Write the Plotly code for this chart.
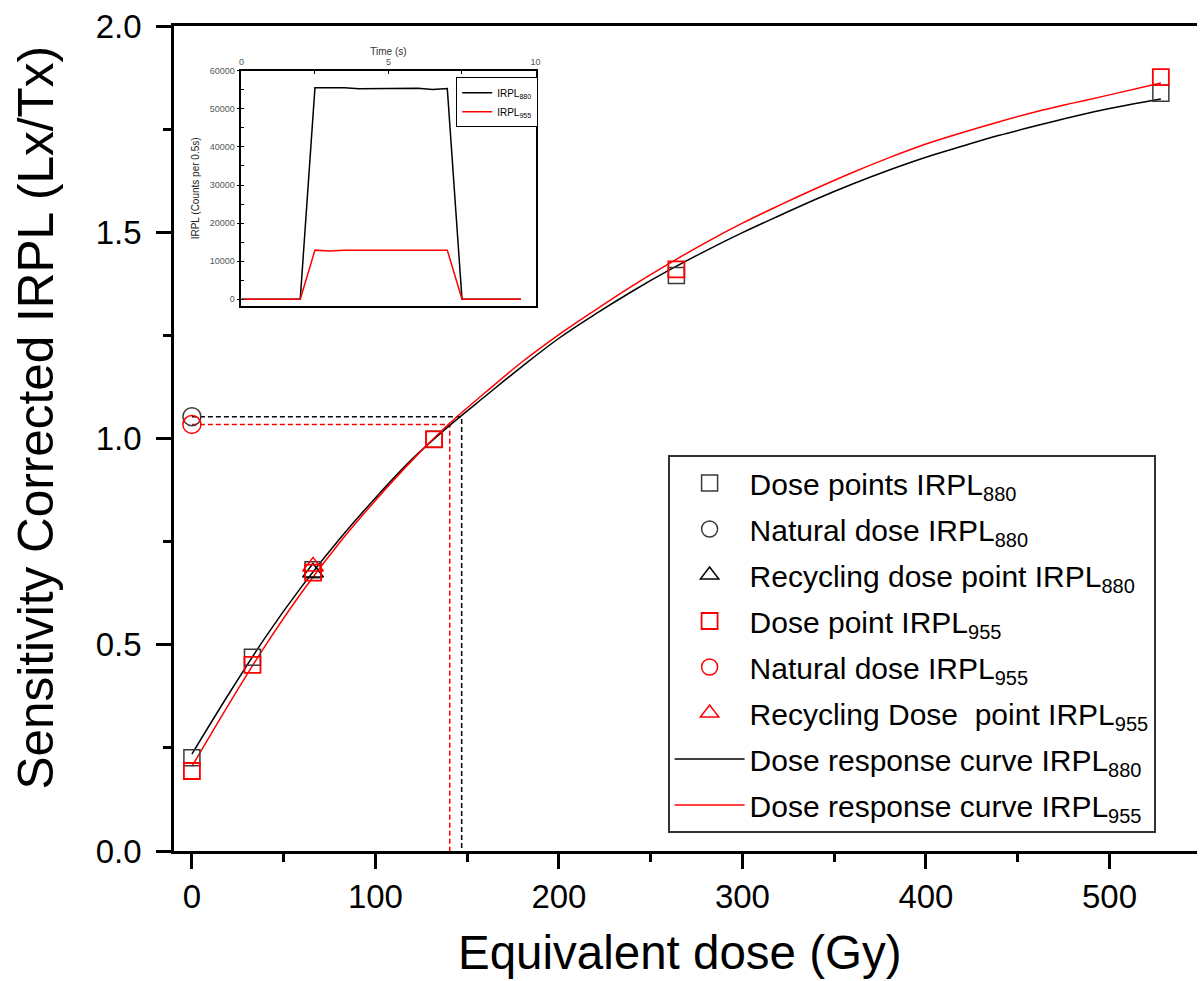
import plotly.graph_objects as go

# ---------------- data ----------------
dose_880 = [0, 33, 66, 132, 264, 528]
lxtx_880 = [0.226, 0.470, 0.682, 0.998, 1.395, 1.837]
dose_955 = [0, 33, 66, 132, 264, 528]
lxtx_955 = [0.194, 0.451, 0.675, 0.998, 1.410, 1.876]

nat_dose = [0]
nat_880 = [1.053]
nat_955 = [1.034]

recyc_dose = [66]
recyc_880 = [0.675]
recyc_955 = [0.690]

de_880 = 147.0
de_955 = 140.5

curve_dose = [0, 20, 40, 60, 80, 100, 120, 140, 160, 180, 200, 220, 240, 260,
              280, 300, 320, 340, 360, 380, 400, 420, 440, 460, 480, 500, 528]
curve_880 = [0.235, 0.380, 0.518, 0.642, 0.754, 0.856, 0.950, 1.030, 1.103,
             1.175, 1.243, 1.302, 1.357, 1.408, 1.455, 1.499, 1.540, 1.580,
             1.617, 1.651, 1.682, 1.709, 1.735, 1.758, 1.780, 1.800, 1.823]
curve_955 = [0.205, 0.355, 0.498, 0.628, 0.745, 0.850, 0.947, 1.035, 1.112,
             1.186, 1.252, 1.312, 1.370, 1.424, 1.475, 1.522, 1.565, 1.606,
             1.645, 1.681, 1.714, 1.742, 1.768, 1.792, 1.813, 1.833, 1.862]

inset_time = [0, 0.5, 1.0, 1.5, 2.0, 2.5, 3.0, 3.5, 4.0, 4.5, 5.0, 5.5, 6.0,
              6.5, 7.0, 7.5, 8.0, 8.5, 9.0, 9.5]
inset_880 = [0, 0, 0, 0, 0, 55500, 55500, 55500, 55300, 55300, 55400, 55300,
             55400, 55100, 55300, 0, 0, 0, 0, 0]
inset_955 = [0, 0, 0, 0, 0, 12900, 12650, 12900, 12900, 12900, 12900, 12900,
             12900, 12900, 12900, 0, 0, 0, 0, 0]

x_ticks = [0, 100, 200, 300, 400, 500]
y_ticks = [0.0, 0.5, 1.0, 1.5, 2.0]

FONT = "Liberation Sans, Arial, sans-serif"
BLACK_M = "#3a3a3a"
RED = "#ff0000"


def sub(s, px=20):
    return '<sub><span style="font-size:%dpx">%s</span></sub>' % (px, s)


fig = go.Figure()

# dashed guide lines (equivalent dose read-off)
fig.add_trace(go.Scatter(x=[nat_dose[0], de_880, de_880], y=[nat_880[0], nat_880[0], 0],
                         mode="lines", line=dict(color="black", width=1.5, dash="5px,3px"),
                         showlegend=False, hoverinfo="skip"))
fig.add_trace(go.Scatter(x=[nat_dose[0], de_955, de_955], y=[nat_955[0], nat_955[0], 0],
                         mode="lines", line=dict(color=RED, width=1.5, dash="5px,3px"),
                         showlegend=False, hoverinfo="skip"))

# curves
fig.add_trace(go.Scatter(x=curve_dose, y=curve_880, mode="lines", line_shape="spline",
                         line=dict(color="black", width=1.5),
                         name="Dose response curve IRPL" + sub("880"),
                         legendgroup="g7", legendrank=7))
fig.add_trace(go.Scatter(x=curve_dose, y=curve_955, mode="lines", line_shape="spline",
                         line=dict(color=RED, width=1.5),
                         name="Dose response curve IRPL" + sub("955"),
                         legendgroup="g8", legendrank=8))

# markers 880
fig.add_trace(go.Scatter(x=dose_880, y=lxtx_880, mode="markers",
                         marker=dict(symbol="square-open", size=16, color=BLACK_M, line=dict(width=1.5)),
                         name="Dose points IRPL" + sub("880"), legendgroup="g1", legendrank=1))
fig.add_trace(go.Scatter(x=nat_dose, y=nat_880, mode="markers",
                         marker=dict(symbol="circle-open", size=18, color=BLACK_M, line=dict(width=1.5)),
                         name="Natural dose IRPL" + sub("880"), legendgroup="g2", legendrank=2))
fig.add_trace(go.Scatter(x=recyc_dose, y=recyc_880, mode="markers",
                         marker=dict(symbol="triangle-up-open", size=18, color="black", line=dict(width=1.5)),
                         name="Recycling dose point IRPL" + sub("880"), legendgroup="g3", legendrank=3))
# markers 955
fig.add_trace(go.Scatter(x=dose_955, y=lxtx_955, mode="markers",
                         marker=dict(symbol="square-open", size=16, color=RED, line=dict(width=1.8)),
                         name="Dose point IRPL" + sub("955"), legendgroup="g4", legendrank=4))
fig.add_trace(go.Scatter(x=nat_dose, y=nat_955, mode="markers",
                         marker=dict(symbol="circle-open", size=18, color=RED, line=dict(width=1.5)),
                         name="Natural dose IRPL" + sub("955"), legendgroup="g5", legendrank=5))
fig.add_trace(go.Scatter(x=recyc_dose, y=recyc_955, mode="markers",
                         marker=dict(symbol="triangle-up-open", size=18, color=RED, line=dict(width=1.5)),
                         name="Recycling Dose  point IRPL" + sub("955"), legendgroup="g6", legendrank=6))

# inset
fig.add_trace(go.Scatter(x=inset_time, y=inset_880, mode="lines", xaxis="x2", yaxis="y2",
                         line=dict(color="black", width=1.5), name="IRPL" + sub("880", 7),
                         legend="legend2"))
fig.add_trace(go.Scatter(x=inset_time, y=inset_955, mode="lines", xaxis="x2", yaxis="y2",
                         line=dict(color=RED, width=1.5), name="IRPL" + sub("955", 7),
                         legend="legend2"))

fig.update_layout(
    width=1202, height=981,
    margin=dict(l=174, r=0, t=26, b=130),
    paper_bgcolor="white", plot_bgcolor="white",
    font=dict(family=FONT, color="black"),
    showlegend=True,
    xaxis=dict(range=[-9.76, 547.7], tickvals=x_ticks, ticks="outside", ticklen=15,
               tickwidth=3, tickcolor="black", showline=True, linewidth=2.5,
               linecolor="black", mirror=True, showgrid=False, zeroline=False,
               tickfont=dict(size=33, family=FONT, color="black"),
               minor=dict(dtick=50, tick0=0, ticks="outside", ticklen=8, tickwidth=3,
                          tickcolor="black", showgrid=False)),
    yaxis=dict(range=[0, 2], tickvals=y_ticks, tickformat=".1f", ticks="outside",
               ticklen=15, tickwidth=3, tickcolor="black", showline=True,
               linewidth=2.5, linecolor="black", mirror=False, showgrid=False,
               zeroline=False, ticklabelstandoff=8,
               tickfont=dict(size=33, family=FONT, color="black"),
               minor=dict(dtick=0.25, tick0=0, ticks="outside", ticklen=8, tickwidth=3,
                          tickcolor="black", showgrid=False)),
    xaxis2=dict(domain=[0.0659, 0.3534], anchor="y2", side="top", range=[0, 10],
                tickvals=[0, 5, 10], ticks="inside", ticklen=4, tickwidth=1,
                tickcolor="black", showline=True, linewidth=1.5, linecolor="black",
                mirror=True, showgrid=False, zeroline=False, ticklabelstandoff=0,
                tickfont=dict(size=9, color="#555555", family=FONT),
                minor=dict(dtick=2.5, tick0=0, ticks="inside", ticklen=4, tickcolor="black"),
                title=dict(text="Time (s)", font=dict(size=10, color="#333333", family=FONT),
                           standoff=0)),
    yaxis2=dict(domain=[0.6606, 0.9458], anchor="x2", range=[-1760, 60000],
                tickvals=[0, 10000, 20000, 30000, 40000, 50000, 60000],
                tickformat="d", ticks="outside", ticklen=3, tickwidth=1,
                tickcolor="black", showline=True, linewidth=1.5, linecolor="black",
                mirror=True, showgrid=False, zeroline=False,
                tickfont=dict(size=9, color="#555555", family=FONT),
                minor=dict(dtick=5000, tick0=0, ticks="inside", ticklen=3, tickcolor="black"),
                title=dict(text="IRPL (Counts per 0.5s)",
                           font=dict(size=10, color="#222222", family=FONT), standoff=8)),
    legend=dict(x=0.4825, y=0.48, xanchor="left", yanchor="top",
                bgcolor="white", bordercolor="#333333", borderwidth=2,
                font=dict(size=30, family=FONT, color="black"),
                traceorder="grouped", tracegroupgap=4, itemwidth=70,
                itemsizing="trace"),
    legend2=dict(x=0.356, y=0.938, xanchor="right", yanchor="top",
                 bgcolor="white", bordercolor="black", borderwidth=1,
                 font=dict(size=10, family=FONT, color="black"),
                 itemwidth=30, tracegroupgap=0),
    annotations=[
        dict(text="Equivalent dose (Gy)", xref="paper", yref="paper", x=0.4951, y=-0.1236,
             xanchor="center", yanchor="middle", showarrow=False,
             font=dict(size=47.5, family=FONT, color="black")),
        dict(text="Sensitivity Corrected IRPL (Lx/Tx)", xref="paper", yref="paper",
             x=-0.1352, y=0.525, xanchor="center", yanchor="middle", textangle=-90,
             showarrow=False, font=dict(size=49.5, family=FONT, color="black")),
    ],
)

fig.write_html("out.html")
